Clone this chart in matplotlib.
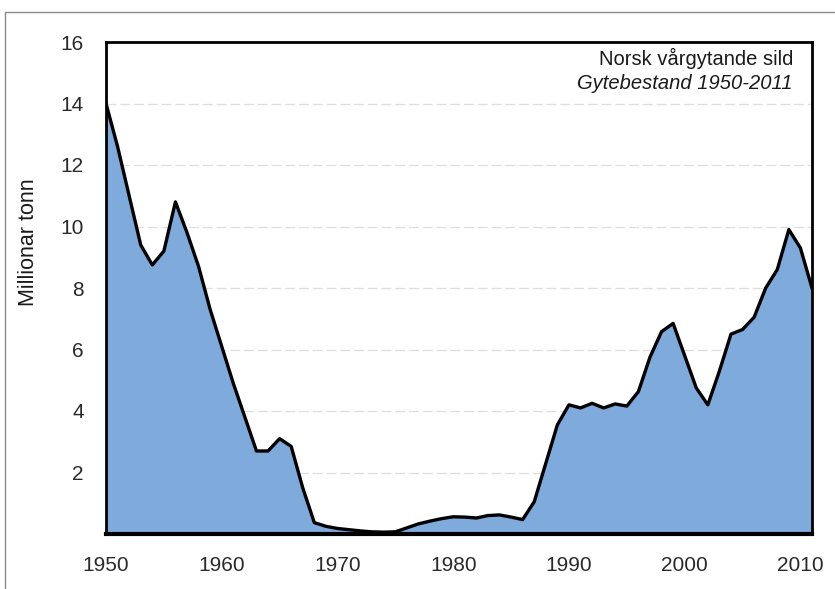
import numpy as np
import matplotlib.pyplot as plt
from matplotlib.patches import Rectangle

plt.rcParams['font.family'] = ['Liberation Sans', 'DejaVu Sans']

# Spawning stock, million tonnes, 1950-2011
years = list(range(1950, 2012))
ssb = [14.0, 12.6, 11.0, 9.4, 8.75, 9.2, 10.8, 9.8, 8.7, 7.3,
       6.1, 4.9, 3.8, 2.7, 2.7, 3.1, 2.85, 1.5, 0.37, 0.25,
       0.18, 0.14, 0.1, 0.07, 0.06, 0.07, 0.2, 0.33, 0.42, 0.5,
       0.56, 0.55, 0.52, 0.6, 0.62, 0.55, 0.47, 1.05, 2.3, 3.55,
       4.2, 4.1, 4.25, 4.1, 4.23, 4.16, 4.63, 5.75, 6.58, 6.85,
       5.8, 4.75, 4.2, 5.3, 6.5, 6.65, 7.05, 8.0, 8.6, 9.9,
       9.3, 8.0]

yticks = [2, 4, 6, 8, 10, 12, 14, 16]
xticks = [1950, 1960, 1970, 1980, 1990, 2000, 2010]

fig = plt.figure(figsize=(8.35, 5.89), dpi=100)
ax = fig.add_axes([106/835, 1 - 534/589, (812 - 106)/835, (534 - 42)/589])

# thin frame round the whole figure
fig.patches.append(Rectangle((5/835, -0.05), 1.0, 1 - 12/589 + 0.05,
                             transform=fig.transFigure, fill=False,
                             edgecolor='#8a8a8a', linewidth=1.0))

ax.fill_between(years, ssb, 0, color='#7eaadc', linewidth=0, zorder=2)
ax.plot(years, ssb, color='black', linewidth=2.4, zorder=3)

ax.set_xlim(1950, 2011)
ax.set_ylim(0, 16)
ax.set_xticks(xticks)
ax.set_yticks(yticks)
ax.tick_params(axis='both', length=0, labelsize=15, labelcolor='#2a2a2a')
ax.tick_params(axis='x', pad=16)
ax.tick_params(axis='y', pad=16)

ax.yaxis.grid(True, color='#e2ddd8', linestyle=(0, (8, 3)), linewidth=0.9, zorder=1)
ax.set_axisbelow(True)

for side in ['top', 'right', 'left']:
    ax.spines[side].set_linewidth(2.0)
ax.spines['bottom'].set_linewidth(3.0)

fig.text(28/835, 1 - 242/589, 'Millionar tonn', rotation=90,
         ha='center', va='center', fontsize=15.5, color='#1a1a1a')

ax.text(0.973, 0.967, 'Norsk vårgytande sild', transform=ax.transAxes,
        ha='right', va='center', fontsize=14.5, color='#1a1a1a')
ax.text(0.973, 0.916, 'Gytebestand 1950-2011', transform=ax.transAxes,
        ha='right', va='center', fontsize=14.5, style='italic', color='#1a1a1a')

fig.savefig('out.png', dpi=100)
